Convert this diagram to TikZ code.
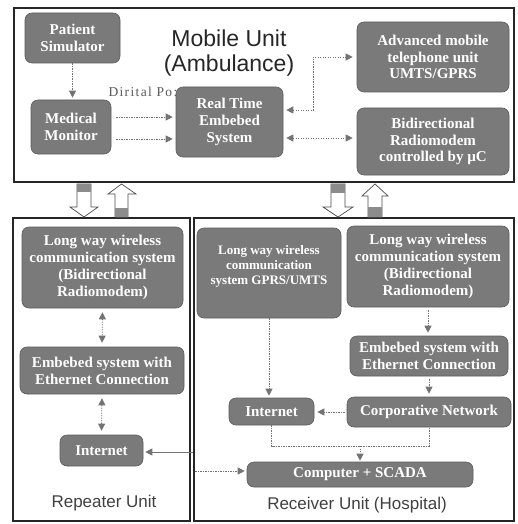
\documentclass[tikz,border=0pt]{standalone}
\usepackage{fontspec}
\setmainfont{Liberation Serif}
\newfontfamily\sansf{Liberation Sans}
\usetikzlibrary{arrows.meta}
\tikzset{
  box/.style={rounded corners=7pt, fill=black!52, draw=black!64, line width=0.6pt,
    text=white, font=\fontsize{15}{16.8}\selectfont\bfseries, align=center, inner sep=0pt},
  frame/.style={draw=black!85, line width=1.6pt, inner sep=0pt},
  tipg/.tip={Triangle[width=7pt,length=7pt]},
  conn/.style={draw=black!55, line width=0.8pt, dash pattern=on 1.3pt off 1.2pt, fill=none,
    -{tipg[fill=black!55,color=black!55]}},
  biconn/.style={conn, {tipg[fill=black!55,color=black!55]}-{tipg[fill=black!55,color=black!55]}},
  solidconn/.style={draw=black!55, line width=0.8pt, -{tipg[fill=black!55,color=black!55]}},
  hollow/.style={draw=black!70, line width=0.7pt, fill=white},
  shade/.style={fill=black!45},
  unitlabel/.style={font=\sansf\fontsize{17}{19}\selectfont, text=black!75},
}
\begin{document}
\begin{tikzpicture}[x=1pt, y=-1pt]
\useasboundingbox (0,0) rectangle (518,524);

% frames
\node[frame, minimum width=500pt, minimum height=174pt] (mob) at (264,95) {};
\node[frame, minimum width=177pt, minimum height=303pt] (rep) at (101.5,369.5) {};
\node[frame, minimum width=320pt, minimum height=303pt] (rec) at (354,369.5) {};

% titles
\node[font=\sansf\fontsize{23}{24.5}\selectfont, text=black!85, align=center] (title) at (229,53) {Mobile Unit\\(Ambulance)};
\node[font=\fontsize{13.5}{14}\selectfont\addfontfeatures{LetterSpace=10}, text=black!65, anchor=west] (dig) at (105,92) {Dirital Po:};
\node[unitlabel] (replab) at (104,503) {Repeater Unit};
\node[unitlabel] (reclab) at (357,505) {Receiver Unit (Hospital)};

% mobile unit nodes
\node[box, minimum width=95pt, minimum height=50pt] (ps) at (72.5,38) {Patient\\Simulator};
\node[box, minimum width=80pt, minimum height=54pt] (mm) at (71,127) {Medical\\Monitor};
\node[box, minimum width=107pt, minimum height=70pt] (rt) at (229.5,122) {Real Time\\Embebed\\System};
\node[box, minimum width=152pt, minimum height=70pt] (adv) at (433,57) {Advanced mobile\\telephone unit\\UMTS/GPRS};
\node[box, minimum width=152pt, minimum height=67pt] (bid) at (433,141.5) {Bidirectional\\Radiomodem\\controlled by µC};

% repeater nodes
\node[box, minimum width=161pt, minimum height=81pt] (r1) at (102.5,267.5) {Long way wireless\\communication system\\(Bidirectional\\Radiomodem)};
\node[box, minimum width=164pt, minimum height=47pt] (r2) at (102,370.5) {Embebed system with\\Ethernet Connection};
\node[box, minimum width=83pt, minimum height=31pt] (r3) at (101.5,450.5) {Internet};

% receiver nodes
\node[box, minimum width=144pt, minimum height=90pt, font=\fontsize{13}{15}\selectfont\bfseries] (h1) at (269,273) {Long way wireless\\communication\\system GPRS/UMTS\\[1pt]\mbox{}};
\node[box, minimum width=162pt, minimum height=81pt] (h2) at (428,266.5) {Long way wireless\\communication system\\(Bidirectional\\Radiomodem)};
\node[box, minimum width=158pt, minimum height=40pt] (h3) at (429,356) {Embebed system with\\Ethernet Connection};
\node[box, minimum width=85pt, minimum height=27pt] (h4) at (271.5,411.5) {Internet};
\node[box, minimum width=164pt, minimum height=30pt] (h5) at (429,412) {Corporative Network};
\node[box, minimum width=226pt, minimum height=25pt] (h6) at (360,474.5) {Computer + SCADA};

% mobile connectors
\draw[conn, shorten >=2pt] (ps.south) -- (ps.south |- mm.north);
\draw[conn, shorten <=5pt, shorten >=3pt] (mm.east |- 0,117) -- (rt.west |- 0,117);
\draw[conn, shorten <=5pt, shorten >=3pt] (mm.east |- 0,139) -- (rt.west |- 0,139);
\draw[biconn, shorten <=3pt, shorten >=4pt] (rt.east |- 0,110) -- ++(30,0) |- (adv.west);
\draw[biconn, shorten <=3pt, shorten >=4pt] (rt.east |- 0,138) -- (bid.west |- 0,138);

% repeater connectors
\draw[biconn, shorten <=4pt, shorten >=4pt] (r1.south) -- (r2.north);
\draw[biconn, shorten <=4pt, shorten >=4pt] (r2.south) -- (r3.north);
\coordinate (rin) at (rec.west |- 0,452);
\draw[solidconn, shorten >=2pt] (rin) -- (r3.east |- rin);

% receiver connectors
\draw[conn, shorten >=2pt] (h1.south) -- (h1.south |- h4.north);
\draw[conn, shorten <=3pt, shorten >=3pt] (h2.south) -- (h2.south |- h3.north);
\draw[conn, shorten <=3pt, shorten >=3pt] (h3.south) -- (h3.south |- h5.north);
\draw[conn, shorten <=2pt, shorten >=3pt] (h5.west) -- (h4.east |- h5.west);
\coordinate (j) at (h6.north |- 0,446);
\draw[draw=black!55, line width=0.8pt, dash pattern=on 1.3pt off 1.2pt] (h4.south) |- (j) -| (h5.south);
\draw[conn, shorten >=1pt] (j) -- (h6.north);
\coordinate (hin) at (rec.west |- 0,471);
\draw[conn, shorten <=2pt, shorten >=2pt] (hin) -- (h6.west |- hin);

% hollow block arrows between units (left pair)
\draw[hollow] (77,184) -- (91,184) -- (91,207) -- (98,207) -- (84,217) -- (70,207) -- (77,207) -- cycle;
\fill[shade] (77.4,184.4) rectangle (90.6,192);
\draw[hollow] (115,217) -- (128,217) -- (128,194) -- (136,194) -- (121.5,184) -- (108,194) -- (115,194) -- cycle;
\fill[shade] (115.4,208) rectangle (127.6,216.6);
% right pair
\draw[hollow] (331,184) -- (345,184) -- (345,207) -- (353,207) -- (338,217) -- (323,207) -- (331,207) -- cycle;
\fill[shade] (331.4,184.4) rectangle (344.6,193);
\draw[hollow] (368,217) -- (382,217) -- (382,196) -- (388,196) -- (375,184) -- (362,196) -- (368,196) -- cycle;
\fill[shade] (368.4,207) rectangle (381.6,216.6);
\end{tikzpicture}
\end{document}
